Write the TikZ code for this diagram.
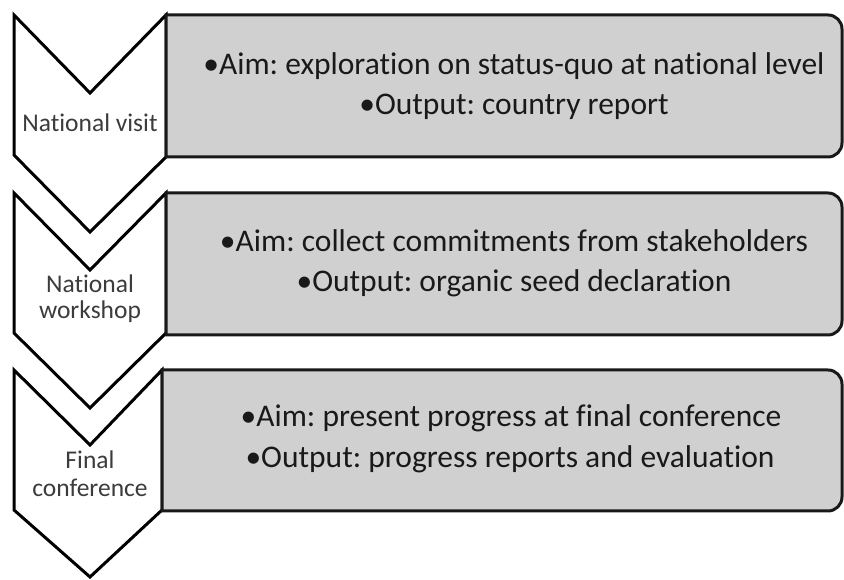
\documentclass[tikz,border=0pt]{standalone}
\usepackage{fontspec}
\setmainfont{Carlito}[Ligatures={NoCommon}]
\frenchspacing
\definecolor{boxfill}{RGB}{208,208,208}
\definecolor{boxtext}{RGB}{25,25,25}
\definecolor{chevtext}{RGB}{60,60,60}
\begin{document}
\begin{tikzpicture}[x=1pt,y=1pt,
  chev/.style={draw=black,line width=3pt,fill=white,line join=miter},
  panel/.style={draw=black!90,line width=3pt,fill=boxfill},
  boxline/.style={anchor=base,inner sep=0pt,text=boxtext,font=\fontsize{31.5}{38}\selectfont},
  chevlabel/.style={anchor=base,inner sep=0pt,text=chevtext,font=\fontsize{25.5}{30}\selectfont}]
\useasboundingbox (0,0) rectangle (844,580);
% stage 1
\draw[chev] (14,565) -- (90,487) -- (166,565) -- (166,423) -- (90,348) -- (14,425) -- cycle;
\draw[panel] (166,565) -- (828,565) arc[start angle=90,end angle=0,radius=14] -- (842,437) arc[start angle=0,end angle=-90,radius=14] -- (166,423) -- cycle;
% stage 2
\draw[chev] (14,387) -- (90,310) -- (166,387) -- (166,247) -- (90,172) -- (14,247) -- cycle;
\draw[panel] (166,387) -- (828,387) arc[start angle=90,end angle=0,radius=14] -- (842,259) arc[start angle=0,end angle=-90,radius=14] -- (166,245) -- cycle;
% stage 3
\draw[chev] (14,210) -- (90,135) -- (162,210) -- (162,70) -- (90,3) -- (14,70) -- cycle;
\draw[panel] (162,210) -- (828,210) arc[start angle=90,end angle=0,radius=14] -- (842,83) arc[start angle=0,end angle=-90,radius=14] -- (162,69) -- cycle;
% chevron labels
\node[chevlabel] (c1) at (90,448) {National visit};
\node[chevlabel] (c2a) at (90,287) {National};
\node[chevlabel] (c2b) at (90,261) {workshop};
\node[chevlabel] (c3a) at (90,111) {Final};
\node[chevlabel] (c3b) at (90,83) {conference};
% panel texts
\node[boxline] (t1a) at (514,505) {•Aim: exploration on status-quo at national level};
\node[boxline] (t1b) at (514,465) {•Output: country report};
\node[boxline] (t2a) at (514,328) {•Aim: collect commitments from stakeholders};
\node[boxline] (t2b) at (514,288) {•Output: organic seed declaration};
\node[boxline] (t3a) at (511,153) {•Aim: present progress at final conference};
\node[boxline] (t3b) at (510,112) {•Output: progress reports and evaluation};
\end{tikzpicture}
\end{document}
